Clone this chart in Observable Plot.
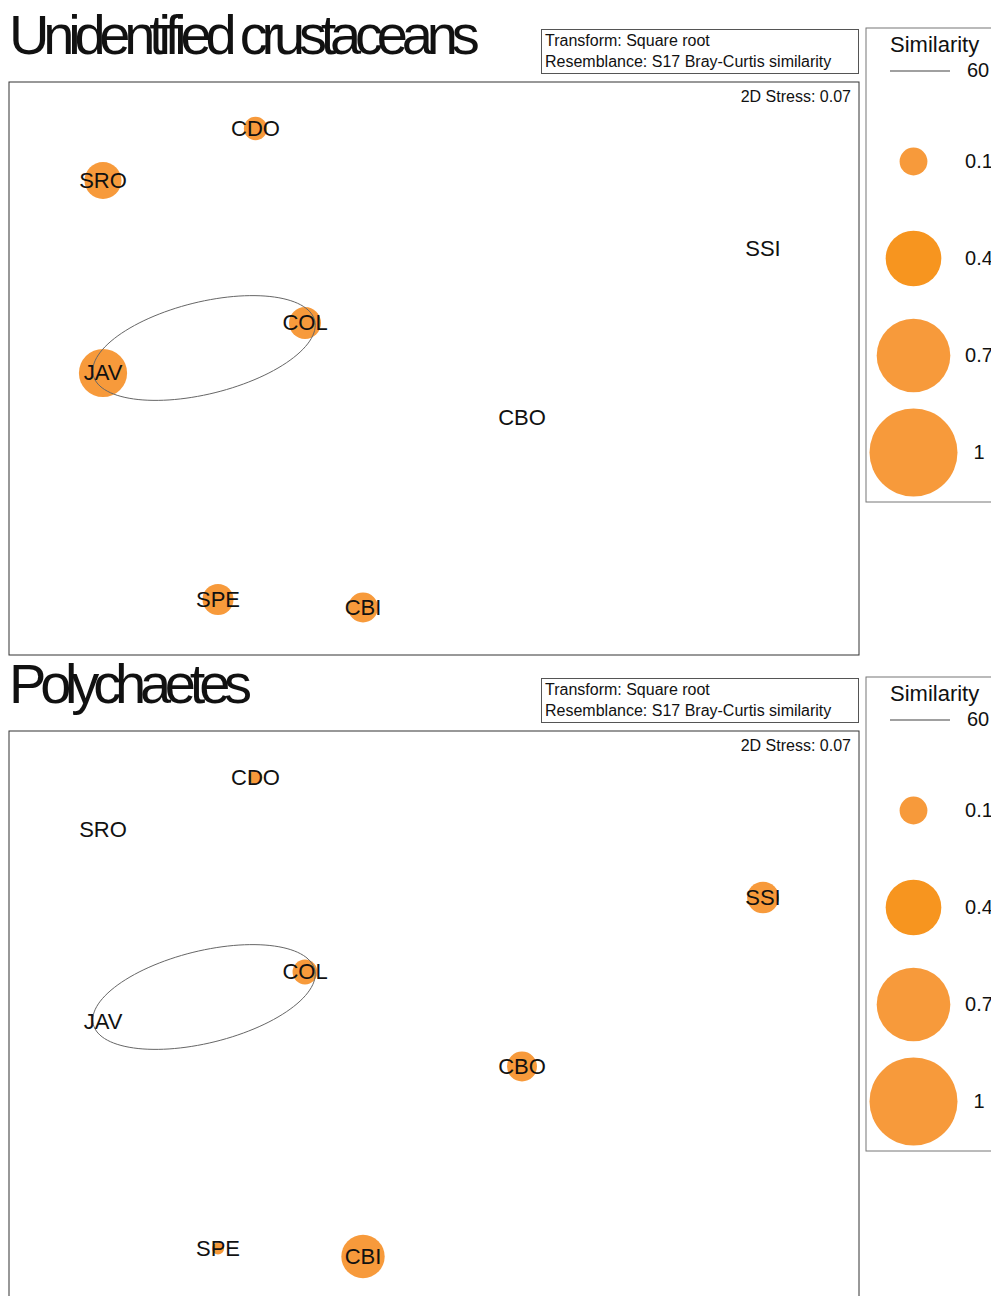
<!DOCTYPE html>
<html>
<head>
<meta charset="utf-8">
<script src="https://cdn.jsdelivr.net/npm/d3@7"></script>
<script src="https://cdn.jsdelivr.net/npm/@observablehq/plot@0.6"></script>
<style>
html,body{margin:0;padding:0;background:#fff;overflow:hidden;width:991px;height:1296px}
body{font-family:"Liberation Sans",Arial,Helvetica,sans-serif;color:#111;position:relative}
.panel{position:absolute;left:0;width:991px;height:649px}
.title{position:absolute;left:9px;top:7px;font-size:56px;line-height:56px;letter-spacing:-6.2px;white-space:nowrap}
.info{position:absolute;left:541px;top:29px;width:318px;height:45px;box-sizing:border-box;border:1px solid #555;font-size:16px;line-height:21px;padding-left:3px;white-space:nowrap}
.main{position:absolute;left:8px;top:81px}
.legend{position:absolute;left:865px;top:27px}
.lgTitle{position:absolute;left:890px;top:34px;font-size:22px;line-height:22px;white-space:nowrap}
.lgLine{position:absolute;left:890px;top:70px;width:60px;height:2px;background:#a0a0a0}
.lgLevel{position:absolute;left:948px;width:60px;text-align:center;top:60px;font-size:20px;line-height:20px}
</style>
</head>
<body>
<script>
// ---- data ----
const sites = ["CDO", "SRO", "SSI", "COL", "JAV", "CBO", "SPE", "CBI"];
const mdsX = [-0.8925, -1.655, 1.645, -0.645, -1.655, 0.44, -1.08, -0.355];
const mdsY = [1.20, 0.94, 0.60, 0.2275, -0.0225, -0.245, -1.155, -1.195];
const crustaceans = [0.07, 0.177, 0, 0.132, 0.30, 0, 0.124, 0.116];
const polychaetes = [0.025, 0, 0.13, 0.08, 0, 0.116, 0.019, 0.243];
const panelTitles = ["Unidentified crustaceans", "Polychaetes"];
const infoLines = ["Transform: Square root", "Resemblance: S17 Bray-Curtis similarity"];
const stressLabel = "2D Stress: 0.07";
const legendTitle = "Similarity";
const contourLevel = "60";
const contourMembers = ["JAV", "COL"];
const contourPad = 0.05;
const contourSemiMinor = 0.23;
const legendValues = [0.1, 0.4, 0.7, 1];
const legendFills = ["#f79a3b", "#f7951f", "#f79a3b", "#f79a3b"];
const bubbleFill = "#f79a3b";

const FONT = "Liberation Sans, Arial, Helvetica, sans-serif";

function contourRing(rows, members, pad, semiMinor, n = 120) {
  const [p, q] = members.map(m => rows.find(r => r.site === m));
  const cx = (p.x + q.x) / 2, cy = (p.y + q.y) / 2;
  const ang = Math.atan2(q.y - p.y, q.x - p.x);
  const a = Math.hypot(q.x - p.x, q.y - p.y) / 2 + pad;
  return d3.range(n).map(i => {
    const t = 2 * Math.PI * i / n;
    const ex = a * Math.cos(t), ey = semiMinor * Math.sin(t);
    return {x: cx + ex * Math.cos(ang) - ey * Math.sin(ang), y: cy + ex * Math.sin(ang) + ey * Math.cos(ang)};
  });
}

function makePanel(title, values, offset) {
  const panel = document.createElement("div");
  panel.className = "panel";
  panel.style.top = offset + "px";
  document.body.appendChild(panel);

  const t = document.createElement("div");
  t.className = "title";
  t.textContent = title;
  panel.appendChild(t);

  const info = document.createElement("div");
  info.className = "info";
  infoLines.forEach(l => { const d = document.createElement("div"); d.textContent = l; info.appendChild(d); });
  panel.appendChild(info);

  const rows = sites.map((s, i) => ({site: s, x: mdsX[i], y: mdsY[i], v: values[i]}));
  const ring = contourRing(rows, contourMembers, contourPad, contourSemiMinor);

  const main = Plot.plot({
    width: 851, height: 574, margin: 0.5,
    x: {domain: [-2.125, 2.125], axis: null},
    y: {domain: [-1.4325, 1.4325], axis: null},
    r: {type: "sqrt", domain: [0, 1], range: [0, 44]},
    style: {fontFamily: FONT, background: "transparent", color: "#111", overflow: "visible"},
    marks: [
      Plot.frame({stroke: "#333", strokeWidth: 1}),
      Plot.dot(rows, {x: "x", y: "y", r: "v", fill: bubbleFill, stroke: "none"}),
      Plot.line(ring, {x: "x", y: "y", curve: "linear-closed", stroke: "#666", strokeWidth: 1}),
      Plot.text(rows, {x: "x", y: "y", text: "site", fontSize: 22, fill: "#111"}),
      Plot.text([stressLabel], {frameAnchor: "top-right", dx: -8, dy: 15, lineAnchor: "middle", fontSize: 16, fill: "#111"})
    ]
  });
  main.classList.add("main");
  panel.appendChild(main);

  const legend = Plot.plot({
    width: 140, height: 475, margin: 0.5,
    x: {axis: null},
    y: {type: "point", domain: legendValues, range: [134, 425], padding: 0, axis: null},
    r: {type: "sqrt", domain: [0, 1], range: [0, 44]},
    color: {type: "identity"},
    style: {fontFamily: FONT, background: "transparent", color: "#111", overflow: "visible"},
    marks: [
      Plot.frame({stroke: "#777", strokeWidth: 1}),
      Plot.dot(legendValues, {frameAnchor: "left", dx: 47.5, y: d => d, r: d => d, fill: (d, i) => legendFills[i], stroke: "none"}),
      Plot.text(legendValues, {frameAnchor: "left", dx: 113, y: d => d, text: d => String(d), textAnchor: "middle", fontSize: 20, fill: "#111"})
    ]
  });
  legend.classList.add("legend");
  panel.appendChild(legend);

  const lt = document.createElement("div");
  lt.className = "lgTitle"; lt.textContent = legendTitle; panel.appendChild(lt);
  const ll = document.createElement("div");
  ll.className = "lgLine"; panel.appendChild(ll);
  const lv = document.createElement("div");
  lv.className = "lgLevel"; lv.textContent = contourLevel; panel.appendChild(lv);
}

makePanel(panelTitles[0], crustaceans, 0);
makePanel(panelTitles[1], polychaetes, 649);
</script>
</body>
</html>
